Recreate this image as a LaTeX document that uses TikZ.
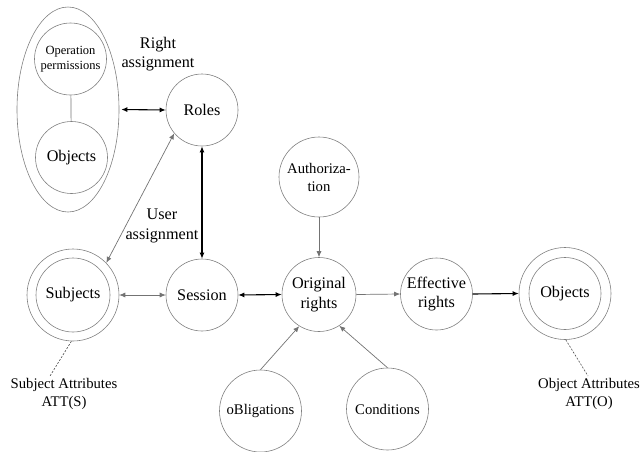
\documentclass[tikz,border=0pt]{standalone}
\usepackage{fontspec}
\setmainfont{Liberation Serif}
\usetikzlibrary{arrows.meta,shapes.geometric}
\begin{document}
\begin{tikzpicture}[x=1pt,y=-1pt,
  ring/.style={circle,draw=black!50,line width=0.6pt,inner sep=0pt,align=center},
  big/.style={font=\fontsize{16.2}{19.5}\selectfont},
  mid/.style={font=\fontsize{14.7}{18}\selectfont},
  small/.style={font=\fontsize{12.5}{15}\selectfont},
  tip/.style={-{Latex[length=6pt,width=5pt]}},
  dtip/.style={{Latex[length=6pt,width=5pt]}-{Latex[length=6pt,width=5pt]}},
  thick1/.style={draw=black,line width=1.1pt},
  thin1/.style={draw=black!55,line width=0.7pt},
  dash1/.style={draw=black!70,line width=0.6pt,dash pattern=on 2pt off 1.5pt}]
\useasboundingbox (0,0) rectangle (641,451);
% left ellipse group
\node[ellipse,draw=black!50,line width=0.6pt,minimum width=102pt,minimum height=205pt,inner sep=0pt] (grp) at (68,109.5) {};
\node[ring,small,minimum size=72pt] (op) at (70.5,59) {Operation\\permissions};
\node[ring,big,minimum size=72pt] (obj1) at (71.5,157.5) {Objects};
\draw[thin1] (op) -- (obj1);
% main nodes
\node[ring,big,minimum size=72pt] (roles) at (202,110) {Roles};
\node[ring,big,minimum size=72pt] (sess) at (202,295) {Session};
\node[ring,minimum size=92pt] (subjO) at (73,295) {};
\node[ring,big,minimum size=74pt] (subj) at (73,295) {Subjects};
\node[ring,mid,minimum size=80pt] (auth) at (319,177) {Authoriza-\\tion};
\node[ring,big,minimum size=74pt] (orig) at (319,294.5) {Original\\rights};
\node[ring,big,minimum size=72pt] (eff) at (436.5,294) {Effective\\rights};
\node[ring,minimum size=92pt] (objO) at (565,293.5) {};
\node[ring,big,minimum size=72pt] (obj2) at (565,293.5) {Objects};
\node[ring,mid,minimum size=82pt] (obl) at (260.5,411) {oBligations};
\node[ring,mid,minimum size=82pt] (cond) at (387.5,409) {Conditions};
% labels
\node[big,align=center] (ra) at (158,54) {Right\\assignment};
\node[big,align=center] (ua) at (162,226) {User\\assignment};
\node[mid,align=center] (satt) at (64,394) {Subject Attributes\\ATT(S)};
\node[mid,align=center] (oatt) at (589,394) {Object Attributes\\ATT(O)};
\coordinate (sattTop) at (50,376);
\coordinate (oattTop) at (588,376);
% connectors
\draw[thick1,dtip] (grp.east) ++(2,0) coordinate (grpE) (grpE) -- (roles.west);
\draw[thick1,dtip] (roles.south) -- (sess.north);
\draw[thin1,dtip] (roles.220) -- (subjO.44);
\draw[thin1,dtip] (subjO.east) -- (sess.west);
\draw[thick1,dtip] (sess.east) -- (orig.west);
\draw[thin1,tip] (auth.south) -- (orig.north);
\draw[thin1,tip] (orig.east) -- (eff.west);
\draw[thick1,tip] (eff.east) -- (objO.west);
\draw[thin1,tip] (obl.north) -- (orig.238);
\draw[thin1,tip] (cond.north) -- (orig.303);
\draw[dash1] (subjO.268) -- (sattTop);
\draw[dash1] (objO.271) -- (oattTop);
\end{tikzpicture}
\end{document}
